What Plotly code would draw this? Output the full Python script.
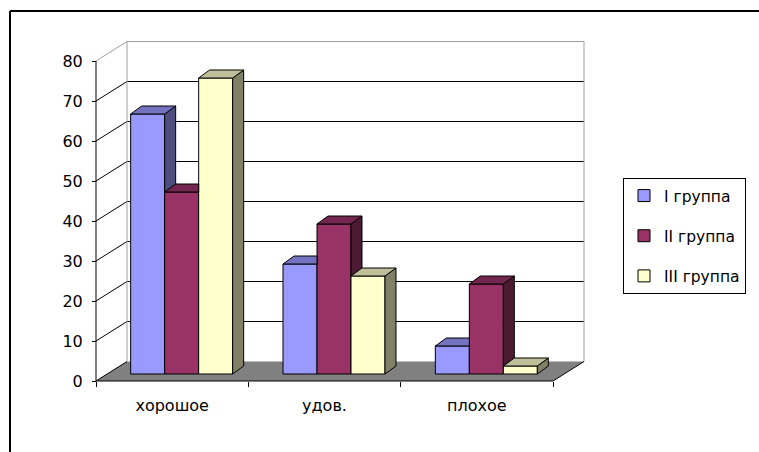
import plotly.graph_objects as go

# ---- data -------------------------------------------------------------
categories = ["хорошое", "удов.", "плохое"]
series_names = ["I группа", "II группа", "III группа"]
group_1 = [65, 27.5, 7]
group_2 = [45.5, 37.5, 22.5]
group_3 = [74, 24.5, 2]
y_ticks = [0, 10, 20, 30, 40, 50, 60, 70, 80]

series_values = [group_1, group_2, group_3]

# ---- styling ----------------------------------------------------------
front_colors = ["#9999FF", "#993366", "#FFFFCC"]
top_colors = ["#7373BF", "#73264D", "#BFBF99"]
side_colors = ["#4D4D80", "#4D1A33", "#808066"]

W, H = 759, 452
FONT = dict(family="DejaVu Sans", size=16, color="black")
LEGEND_FONT = dict(family="DejaVu Sans", size=15.5, color="black")

# axis geometry: category axis spans -0.5..2.5, value axis 0..80
PLOT_LEFT, PLOT_RIGHT, PLOT_ZERO, PX_PER_VAL = 96, 553, 381, 4.0
ux = 3.0 / (PLOT_RIGHT - PLOT_LEFT)          # category units per pixel
uy = 1.0 / PX_PER_VAL                        # value units per pixel
X_RANGE = [-0.5 - PLOT_LEFT * ux, -0.5 + (W - PLOT_LEFT) * ux]
Y_RANGE = [-(H - PLOT_ZERO) * uy, PLOT_ZERO * uy]

# oblique depth of the walls and of the column row
WALL_DX, WALL_DY = 31 * ux, 19.5 * uy
ROW_DX, ROW_DY = 9.5 * ux, 7 * uy
FACE_DX, FACE_DY = 11 * ux, 8 * uy
BAR_W = 34 * ux

fig = go.Figure()

# front faces of the columns
for k, (name, vals) in enumerate(zip(series_names, series_values)):
    fig.add_trace(go.Bar(
        x=[i + ROW_DX for i in range(len(categories))],
        y=vals,
        base=ROW_DY,
        width=BAR_W,
        offset=(k - 1.5) * BAR_W,
        name=name,
        legendgroup=name,
        marker=dict(color=front_colors[k], line=dict(color="black", width=1)),
        hoverinfo="name+y",
    ))

# top and side faces
def poly(xs, ys, color):
    fig.add_trace(go.Scatter(
        x=xs + [xs[0]], y=ys + [ys[0]], mode="lines", fill="toself",
        fillcolor=color, line=dict(color="black", width=1),
        showlegend=False, hoverinfo="skip",
    ))

n_series = len(series_values)
for i in range(len(categories)):
    for k in range(n_series):
        v = series_values[k][i]
        x0 = i + ROW_DX + (k - 1.5) * BAR_W
        x1 = x0 + BAR_W
        t = v + ROW_DY
        nxt = series_values[k + 1][i] + ROW_DY if k + 1 < n_series else None
        # side face (only the part not hidden by the neighbouring column)
        if nxt is None:
            lo = ROW_DY
            poly([x1, x1, x1 + FACE_DX, x1 + FACE_DX],
                 [lo, t, t + FACE_DY, lo + FACE_DY], side_colors[k])
        elif nxt < t:
            lo = max(ROW_DY, nxt)
            poly([x1, x1, x1 + FACE_DX, x1 + FACE_DX],
                 [lo, t, t + FACE_DY, lo + FACE_DY], side_colors[k])
        # top face
        if nxt is not None and nxt >= t:
            poly([x0, x1, x1, x0 + FACE_DX],
                 [t, t, t + FACE_DY, t + FACE_DY], top_colors[k])
        else:
            poly([x0, x1, x1 + FACE_DX, x0 + FACE_DX],
                 [t, t, t + FACE_DY, t + FACE_DY], top_colors[k])

# ---- walls, floor and axis lines --------------------------------------
shapes = []
xl, xr = -0.5, 2.5
ytop = y_ticks[-1]


def seg(x0, y0, x1, y1, color="black", width=1, ref="data"):
    shapes.append(dict(type="line", x0=x0, y0=y0, x1=x1, y1=y1,
                       xref="x" if ref == "data" else "paper",
                       yref="y" if ref == "data" else "paper",
                       line=dict(color=color, width=width), layer="below"))


# floor
shapes.append(dict(
    type="path", xref="x", yref="y", layer="below",
    path=f"M{xl},0 L{xr},0 L{xr + WALL_DX},{WALL_DY} L{xl + WALL_DX},{WALL_DY} Z",
    fillcolor="#808080", line=dict(width=0)))

# back wall grid and left wall lines
for v in y_ticks[1:-1]:
    seg(xl + WALL_DX, v + WALL_DY, xr + WALL_DX, v + WALL_DY)
    seg(xl, v, xl + WALL_DX, v + WALL_DY)
seg(xl + WALL_DX, ytop + WALL_DY, xr + WALL_DX, ytop + WALL_DY, "#A0A0A0")
seg(xl, ytop, xl + WALL_DX, ytop + WALL_DY, "#A0A0A0")
seg(xl + WALL_DX, WALL_DY, xl + WALL_DX, ytop + WALL_DY, "#A0A0A0")
seg(xr + WALL_DX, WALL_DY, xr + WALL_DX, ytop + WALL_DY, "#A0A0A0")

# floor edges and front axes
seg(xl, 0, xl + WALL_DX, WALL_DY)
seg(xr, 0, xr + WALL_DX, WALL_DY)
seg(xl, 0, xr, 0)
seg(xl, 0, xl, ytop)

# chart-area frame
fx, fy = 10 / W, 1 - 11 / H
seg(fx, fy, 1.01, fy, width=2, ref="paper")
seg(fx, -0.01, fx, fy, width=2, ref="paper")

fig.update_layout(
    width=W, height=H, autosize=False,
    margin=dict(l=0, r=0, t=0, b=0, pad=0),
    paper_bgcolor="white", plot_bgcolor="white",
    barmode="overlay",
    shapes=shapes,
    font=FONT,
    xaxis=dict(
        range=X_RANGE, domain=[0, 1], anchor="free",
        position=1 - PLOT_ZERO / H,
        tickmode="array", tickvals=list(range(len(categories))),
        ticktext=categories, ticks="", showgrid=False, zeroline=False,
        showline=False, ticklabelstandoff=13, tickfont=FONT,
        minor=dict(tickmode="array", tickvals=[-0.5, 0.5, 1.5, 2.5],
                   ticks="outside", ticklen=5, tickcolor="black",
                   tickwidth=1, showgrid=False),
        fixedrange=True,
    ),
    yaxis=dict(
        range=Y_RANGE, domain=[0, 1], anchor="free",
        position=PLOT_LEFT / W,
        tickmode="array", tickvals=y_ticks,
        ticks="outside", ticklen=4, tickcolor="black", tickwidth=1,
        showgrid=False, zeroline=False, showline=False,
        ticklabelstandoff=6, tickfont=FONT, fixedrange=True,
    ),
    legend=dict(
        x=623 / W, y=1 - 178 / H, xanchor="left", yanchor="top",
        bgcolor="white", bordercolor="black", borderwidth=1,
        font=LEGEND_FONT, tracegroupgap=17, traceorder="grouped",
        itemwidth=30,
    ),
    showlegend=True,
)

fig.write_html("out.html")
